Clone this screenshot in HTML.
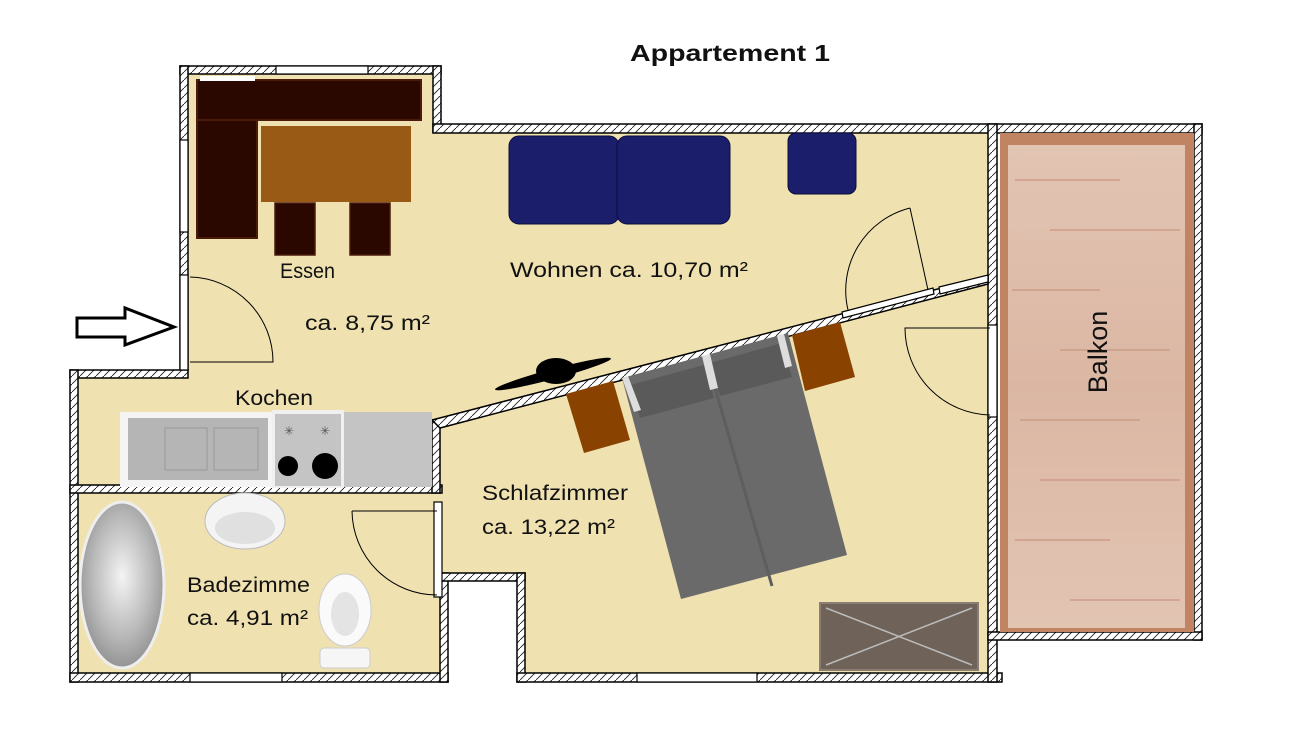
<!DOCTYPE html>
<html><head><meta charset="utf-8"><style>
html,body{margin:0;padding:0;background:#fff;}
svg{display:block;}
text{font-family:"Liberation Sans",sans-serif;}
</style></head><body>
<svg width="1312" height="752" viewBox="0 0 1312 752" xmlns="http://www.w3.org/2000/svg">
<defs>
<pattern id="h" width="8" height="8" patternUnits="userSpaceOnUse">
<rect width="8" height="8" fill="#fff"/><path d="M0 8L8 0" stroke="#222" stroke-width="0.9"/>
</pattern>
<linearGradient id="wood" x1="0" y1="0" x2="0" y2="1">
<stop offset="0" stop-color="#e2c4b3"/><stop offset="0.5" stop-color="#dbb7a3"/><stop offset="1" stop-color="#e2c4b3"/>
</linearGradient>
<radialGradient id="tub" cx="0.5" cy="0.45" r="0.6"><stop offset="0" stop-color="#f4f4f4"/><stop offset="0.6" stop-color="#b8b8b8"/><stop offset="1" stop-color="#8a8a8a"/></radialGradient>
</defs>
<text x="630" y="61" font-size="23" font-weight="bold" fill="#111" textLength="200" lengthAdjust="spacingAndGlyphs">Appartement 1</text>

<path d="M188 73 L433 73 L433 132 L990 132 L990 673 L520 673 L520 580 L443 580 L443 673 L78 673 L78 378 L188 378 Z" fill="#efe1b0"/>

<g fill="url(#h)" stroke="#000" stroke-width="1.5">
<rect x="180" y="66" width="261" height="8"/>
<rect x="433" y="66" width="8" height="66"/>
<rect x="433" y="124" width="769" height="9"/>
<rect x="180" y="66" width="8" height="304"/>
<rect x="70" y="370" width="118" height="8"/>
<rect x="70" y="370" width="8" height="312"/>
<rect x="70" y="673" width="378" height="9"/>
<rect x="440" y="573" width="8" height="109"/>
<rect x="440" y="573" width="85" height="8"/>
<rect x="517" y="573" width="8" height="109"/>
<rect x="517" y="673" width="485" height="9"/>
<rect x="988" y="124" width="9" height="558"/>
<rect x="1194" y="124" width="8" height="516"/>
<rect x="988" y="632" width="214" height="8"/>
<rect x="70" y="485" width="372" height="8"/>
<rect x="432" y="420" width="8" height="73"/>
<polygon points="432,420 988,276 988,284 440,428"/>
</g>
<g fill="#fff" stroke="#000" stroke-width="1.2">
<rect x="276" y="66" width="92" height="8"/>
<rect x="180" y="140" width="8" height="92"/>
<rect x="180" y="275" width="8" height="95"/>
<rect x="190" y="673" width="92" height="9"/>
<rect x="434" y="502" width="8" height="95"/>
<rect x="637" y="673" width="120" height="9"/>
<rect x="988" y="325" width="9" height="92"/>
<polygon points="842,312 933,288 934,294 843,318"/>
<polygon points="939,287 988,275 988,282 940,294"/>
</g>

<rect x="1000" y="133" width="194" height="499" fill="#c08462"/>
<rect x="1008" y="145" width="177" height="483" fill="url(#wood)"/>
<g stroke="#c99580" stroke-width="2" opacity="0.6">
<line x1="1015" y1="180" x2="1120" y2="180"/><line x1="1050" y1="230" x2="1180" y2="230"/><line x1="1012" y1="290" x2="1100" y2="290"/><line x1="1060" y1="350" x2="1170" y2="350"/><line x1="1020" y1="420" x2="1140" y2="420"/><line x1="1040" y1="480" x2="1180" y2="480"/><line x1="1015" y1="540" x2="1110" y2="540"/><line x1="1070" y1="600" x2="1180" y2="600"/>
</g>
<text transform="translate(1107,352) rotate(-90)" text-anchor="middle" font-size="27" fill="#111">Balkon</text>

<g fill="none" stroke="#000" stroke-width="1">
<path d="M190 277 A85 85 0 0 1 273 362 L190 362"/>
<path d="M990 328 L905 328 A87 87 0 0 0 990 415"/>
<path d="M352 511 L437 511 M352 511 A85 85 0 0 0 437 595"/>
<path d="M910 208 L928 290 M910 208 A85 85 0 0 0 848 310"/>
</g>

<rect x="197" y="80" width="224" height="40" fill="#2a0800" stroke="#4a1a0a" stroke-width="2"/>
<rect x="200" y="76" width="55" height="5" fill="#fff"/>
<rect x="197" y="120" width="60" height="118" fill="#2a0800" stroke="#4a1a0a" stroke-width="2"/>
<rect x="261" y="126" width="150" height="76" fill="#985a15"/>
<rect x="275" y="203" width="40" height="52" fill="#2a0800" stroke="#4a1a0a" stroke-width="1.5"/>
<rect x="350" y="203" width="40" height="52" fill="#2a0800" stroke="#4a1a0a" stroke-width="1.5"/>

<rect x="509" y="136" width="110" height="88" rx="10" fill="#1b1f6b" stroke="#0b0d3a"/>
<rect x="617" y="136" width="113" height="88" rx="10" fill="#1b1f6b" stroke="#0b0d3a"/>
<rect x="788" y="133" width="68" height="61" rx="8" fill="#1b1f6b" stroke="#0b0d3a"/>

<rect x="120" y="412" width="312" height="75" fill="#c4c4c4"/>
<rect x="120" y="412" width="152" height="75" fill="#f4f4f4"/>
<rect x="128" y="418" width="140" height="62" fill="#b5b5b5"/>
<rect x="165" y="428" width="42" height="42" fill="none" stroke="#999"/>
<rect x="214" y="428" width="44" height="42" fill="none" stroke="#999"/>
<rect x="272" y="410" width="72" height="78" fill="#f0f0f0"/>
<rect x="275" y="414" width="66" height="72" fill="#c4c4c4"/>
<circle cx="288" cy="466" r="10" fill="#000"/>
<circle cx="325" cy="466" r="13" fill="#000"/>
<text x="289" y="435" font-size="12" text-anchor="middle" fill="#555">✳</text>
<text x="325" y="435" font-size="12" text-anchor="middle" fill="#555">✳</text>

<ellipse cx="122" cy="585" rx="42" ry="83" fill="url(#tub)" stroke="#eee" stroke-width="3"/>
<ellipse cx="245" cy="521" rx="40" ry="28" fill="#f4f4f4" stroke="#bbb"/>
<ellipse cx="245" cy="528" rx="30" ry="16" fill="#e0e0e0"/>
<ellipse cx="345" cy="610" rx="26" ry="36" fill="#fafafa" stroke="#ccc"/>
<ellipse cx="345" cy="614" rx="14" ry="22" fill="#e4e4e4"/>
<rect x="320" y="648" width="50" height="20" rx="4" fill="#f6f6f6" stroke="#ccc"/>

<polygon points="566,394 613,381 630,440 584,453" fill="#8a4200"/>
<polygon points="792,335 840,322 855,377 805,391" fill="#8a4200"/>
<polygon points="622,378 788,333 847,555 681,599" fill="#6a6a6a"/>
<polygon points="630,385 704,365 714,398 640,418" fill="#5a5a5a"/>
<polygon points="710,363 782,343 792,377 720,396" fill="#5a5a5a"/>
<line x1="713" y1="381" x2="772" y2="586" stroke="#5e5e5e" stroke-width="3"/>
<polygon points="622,378 628,376 641,410 634,412" fill="#ddd"/>
<polygon points="702,356 710,354 718,388 710,390" fill="#ddd"/>
<polygon points="777,336 784,334 792,366 785,368" fill="#ddd"/>

<ellipse cx="553" cy="374" rx="60" ry="5" transform="rotate(-15 553 374)" fill="#000"/>
<ellipse cx="556" cy="371" rx="20" ry="13" fill="#000"/>

<rect x="820" y="603" width="158" height="67" fill="#6e6259" stroke="#8a7d72" stroke-width="2"/>
<path d="M826 608 L972 665 M972 608 L826 665" stroke="#bbb" stroke-width="1.5"/>

<path d="M77 318 L125 318 L125 308 L174 327 L125 345 L125 337 L77 337 Z" fill="#fff" stroke="#000" stroke-width="3"/>

<g font-size="21" fill="#111" lengthAdjust="spacingAndGlyphs">
<text x="280" y="278" textLength="55" lengthAdjust="spacingAndGlyphs">Essen</text>
<text x="305" y="330" textLength="125" lengthAdjust="spacingAndGlyphs">ca. 8,75 m²</text>
<text x="510" y="277" textLength="238" lengthAdjust="spacingAndGlyphs">Wohnen ca. 10,70 m²</text>
<text x="235" y="405" textLength="78" lengthAdjust="spacingAndGlyphs">Kochen</text>
<text x="482" y="500" textLength="146" lengthAdjust="spacingAndGlyphs">Schlafzimmer</text>
<text x="482" y="534" textLength="133" lengthAdjust="spacingAndGlyphs">ca. 13,22 m²</text>
<text x="187" y="592" textLength="123" lengthAdjust="spacingAndGlyphs">Badezimme</text>
<text x="187" y="625" textLength="121" lengthAdjust="spacingAndGlyphs">ca. 4,91 m²</text>
</g>
</svg>
</body></html>
